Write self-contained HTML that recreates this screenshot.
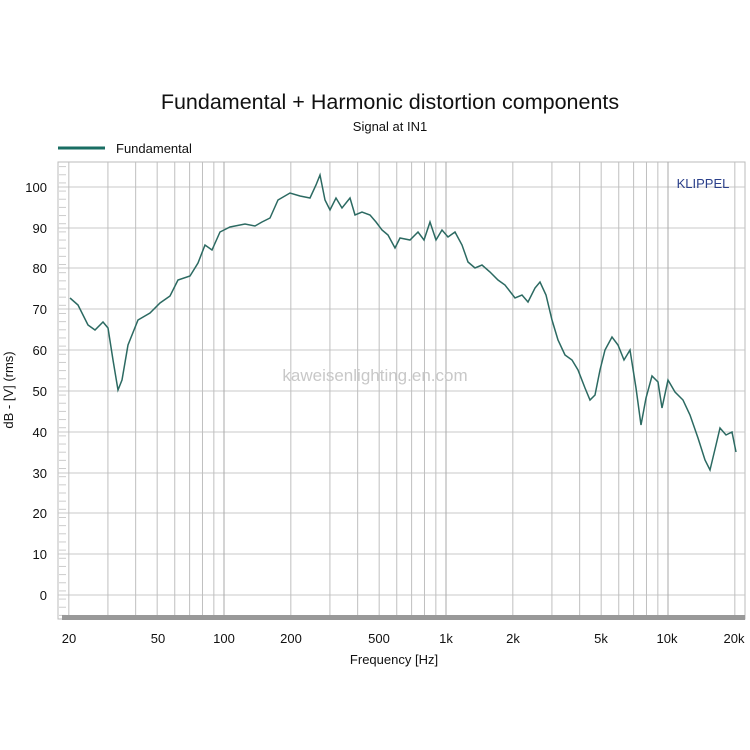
<!DOCTYPE html>
<html><head><meta charset="utf-8"><style>
body{margin:0;background:#fff}
svg{display:block}
text{font-family:"Liberation Sans",Arial,sans-serif}
</style></head><body>
<svg width="750" height="750" viewBox="0 0 750 750">
<rect width="750" height="750" fill="#fff"/>
<text x="390" y="109" font-size="21.5" text-anchor="middle" fill="#111">Fundamental + Harmonic distortion components</text>
<text x="390" y="131" font-size="13" text-anchor="middle" fill="#111">Signal at IN1</text>
<line x1="58" y1="148" x2="105" y2="148" stroke="#1a6e63" stroke-width="3"/>
<text x="116" y="153" font-size="13" fill="#111">Fundamental</text>
<rect x="58" y="162" width="687" height="457" fill="#fff" stroke="#bbb" stroke-width="1"/>
<g stroke="#c8c8c8" stroke-width="1">
<line x1="58" y1="187" x2="745" y2="187"/><line x1="58" y1="228" x2="745" y2="228"/>
<line x1="58" y1="268" x2="745" y2="268"/><line x1="58" y1="309" x2="745" y2="309"/>
<line x1="58" y1="350" x2="745" y2="350"/><line x1="58" y1="391" x2="745" y2="391"/>
<line x1="58" y1="432" x2="745" y2="432"/><line x1="58" y1="473" x2="745" y2="473"/>
<line x1="58" y1="513" x2="745" y2="513"/><line x1="58" y1="554" x2="745" y2="554"/>
<line x1="58" y1="595" x2="745" y2="595"/>
</g>
<g id="vg" stroke="#bfbfbf" stroke-width="1"></g>
<g id="ticks" stroke="#ccc" stroke-width="1"></g>
<rect x="62" y="615" width="683" height="5" fill="#999"/>
<g font-size="13" fill="#111" text-anchor="end">
<text x="47" y="192">100</text><text x="47" y="233">90</text><text x="47" y="273">80</text>
<text x="47" y="314">70</text><text x="47" y="355">60</text><text x="47" y="396">50</text>
<text x="47" y="437">40</text><text x="47" y="478">30</text><text x="47" y="518">20</text>
<text x="47" y="559">10</text><text x="47" y="600">0</text>
</g>
<g font-size="13" fill="#111" text-anchor="middle">
<text x="69" y="643">20</text><text x="158" y="643">50</text><text x="224" y="643">100</text>
<text x="291" y="643">200</text><text x="379" y="643">500</text><text x="446" y="643">1k</text>
<text x="513" y="643">2k</text><text x="601" y="643">5k</text><text x="667" y="643">10k</text>
<text x="734" y="643">20k</text>
</g>
<text x="394" y="664" font-size="13" text-anchor="middle" fill="#111">Frequency [Hz]</text>
<text transform="translate(13,390) rotate(-90)" font-size="13" text-anchor="middle" fill="#111">dB - [V] (rms)</text>
<text x="703" y="188" font-size="13" text-anchor="middle" fill="#2a3f8a">KLIPPEL</text>
<text x="375" y="381" font-size="17" text-anchor="middle" fill="#c8c8c8">kaweisenlighting.en.com</text>
<polyline fill="none" stroke="#2c6a62" stroke-width="1.5" points="70,298 78,305 88,325 95,330 103,322 108,328 113,360 118,390 122,380 128,345 138,320 150,313 160,303 170,296 178,280 190,276 198,263 205,245 212,250 220,232 230,227 245,224 255,226 262,222 270,218 278,200 290,193 300,196 310,198 316,185 320,175 325,200 330,210 336,198 342,208 350,198 355,215 362,212 370,215 376,222 382,230 388,235 395,248 400,238 410,240 418,232 424,240 430,222 436,240 442,230 448,237 455,232 462,245 468,262 475,268 482,265 490,272 498,280 505,285 515,298 522,295 528,302 535,288 540,282 546,295 552,320 558,340 565,355 572,360 578,370 585,388 590,400 595,395 600,370 605,350 612,337 618,345 624,360 630,350 636,388 641,425 646,398 652,376 658,382 662,408 668,380 675,392 683,400 690,415 698,438 705,460 710,470 716,445 720,428 726,435 732,432 736,452"/>
<script>
var g=document.getElementById('vg'),ns='http://www.w3.org/2000/svg';
function X(f){return 224+(Math.log10(f)-2)*222;}
[20,30,40,50,60,70,80,90,100,200,300,400,500,600,700,800,900,1000,2000,3000,4000,5000,6000,7000,8000,9000,10000,20000].forEach(function(f){
var l=document.createElementNS(ns,'line');var x=X(f);
l.setAttribute('x1',x);l.setAttribute('x2',x);l.setAttribute('y1',162);l.setAttribute('y2',617);
if(f==100||f==1000||f==10000)l.setAttribute('stroke','#aaa');g.appendChild(l);});
var t=document.getElementById('ticks');
for(var v=-5;v<=105;v+=2){var y=595-v*4.08;var l=document.createElementNS(ns,'line');
l.setAttribute('x1',59);l.setAttribute('x2',66);l.setAttribute('y1',y);l.setAttribute('y2',y);t.appendChild(l);}
</script>
</svg>
</body></html>
